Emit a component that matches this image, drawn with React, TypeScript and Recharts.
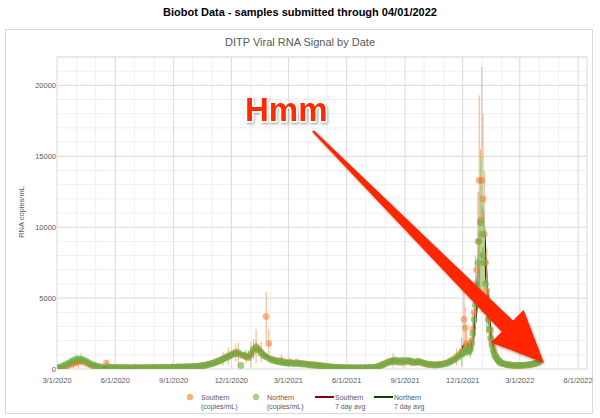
import React from 'react';
import { ComposedChart, Scatter, Line, XAxis, YAxis, CartesianGrid, ErrorBar } from 'recharts';

// Day offsets counted from 3/1/2020
const sampleDays = [
  2, 6, 10, 14, 18, 22, 26, 30, 34, 38, 42, 46, 50, 54, 58, 62, 66, 70,
  78,
  82, 86, 90, 94, 98, 102, 106, 110, 114, 118, 122, 126, 130, 134, 138, 142, 146, 150, 154, 158, 162, 166, 170, 174, 178, 182, 186, 190, 194, 198, 202, 206, 210, 214, 218, 222, 226,
  230, 234, 238, 242, 246, 250, 254, 258, 262, 266, 270, 274,
  278, 282, 286, 290, 294, 298, 302, 306, 310, 314, 318, 322, 326, 330, 334, 338, 342, 346, 350, 354, 358, 362, 366, 370, 374, 378, 382, 386, 390, 394, 398,
  402, 406, 410, 414, 418, 422, 426, 430, 434, 438, 442, 446, 450, 454, 458, 462, 466, 470, 474, 478, 482, 486, 490, 494, 498, 502,
  506, 510, 514, 518, 522, 526, 530, 534, 538, 542, 546, 550, 554, 558, 562, 566, 570, 574, 578, 582, 586, 590, 594, 598, 602, 606, 610, 614, 618, 622, 626, 630, 634, 638,
  640, 642, 644, 646, 648, 650, 652, 654, 656, 658, 660, 662, 664, 666, 668, 670, 672, 674, 676, 678, 680, 682, 684, 686, 688, 690, 692, 694, 696, 698, 700,
  704, 708, 712, 716, 720, 724, 728, 732, 736, 740, 744, 748, 752, 756, 760,
];

const southernValues = [
  60, 90, 130, 180, 250, 320, 380, 450, 500, 540, 500, 420, 330, 260, 180, 140, 110, 90,
  420,
  150, 120, 100, 110, 90, 100, 120, 90, 80, 100, 110, 90, 100, 80, 90, 110, 100, 120, 90, 100, 110, 130, 100, 120, 110, 140, 120, 130, 150, 120, 140, 160, 150, 170, 180, 200, 220,
  250, 280, 320, 380, 420, 500, 560, 650, 720, 820, 900, 1000,
  1100, 1200, 1050, 1000, 950, 850, 800, 1000, 1300, 1600, 1400, 1200, 1000, 3700, 1800, 700, 650, 600, 550, 600, 500, 450, 500, 450, 400, 480, 420, 400, 380, 350, 330,
  300, 320, 280, 250, 230, 200, 180, 160, 150, 130, 120, 110, 100, 90, 100, 90, 80, 90, 100, 90, 80, 100, 90, 100, 110, 130,
  180, 250, 320, 400, 500, 550, 600, 500, 550, 450, 500, 600, 550, 500, 450, 500, 550, 450, 400, 350, 300, 300, 280, 300, 320, 350, 380, 420, 500, 600, 700, 850, 1000, 1200,
  1300, 3500, 2900, 1800, 1600, 1300, 1500, 2000, 2800, 4000, 5500, 7000, 9000, 13300, 10500, 13300, 12000, 9500, 7500, 5500, 4500, 3500, 2700, 2000, 1500, 1200, 950, 800, 650, 550, 450,
  380, 330, 300, 280, 260, 250, 250, 260, 270, 280, 300, 330, 370, 420, 500,
];

const northernValues = [
  100, 150, 230, 320, 420, 520, 600, 680, 720, 700, 640, 540, 440, 350, 280, 220, 170, 140,
  150,
  120, 100, 90, 80, 100, 90, 80, 100, 90, 80, 90, 100, 80, 90, 100, 90, 80, 100, 110, 90, 100, 110, 120, 100, 120, 130, 110, 140, 130, 150, 140, 150, 170, 160, 180, 190, 210,
  230, 260, 300, 350, 400, 460, 530, 600, 700, 780, 880, 950,
  1050, 1100, 1150, 250, 1000, 900, 850, 1100, 1400, 1500, 1350, 1100, 950, 850, 750, 650, 600, 550, 500, 480, 450, 420, 400, 420, 380, 400, 380, 350, 350, 330, 300,
  280, 260, 250, 230, 200, 190, 170, 150, 130, 120, 110, 100, 90, 100, 90, 80, 90, 80, 90, 80, 90, 80, 100, 90, 100, 120,
  160, 220, 300, 380, 450, 500, 550, 650, 500, 600, 550, 500, 600, 550, 500, 450, 500, 480, 420, 380, 350, 320, 300, 280, 300, 320, 350, 400, 450, 550, 650, 750, 900, 1050,
  1100, 1200, 1300, 1400, 1300, 1200, 1400, 1800, 2500, 3500, 4500, 6000, 7500, 9000, 10300, 9500, 8000, 7500, 6000, 4500, 3500, 2800, 2200, 1700, 1300, 1000, 850, 700, 600, 500, 420,
  380, 330, 300, 270, 260, 250, 240, 250, 260, 280, 300, 330, 360, 400, 480,
];

const southernErrDays = [26, 34, 78, 262, 270, 286, 306, 314, 322, 330, 334, 354, 530, 546, 558, 630, 638, 642, 644, 646, 652, 656, 660, 664, 666, 668, 670, 672, 674, 678, 682, 686];
const southernErrs = [300, 400, 200, 500, 600, 800, 900, 1200, 700, 1700, 1000, 400, 500, 400, 300, 600, 1000, 2000, 1500, 900, 700, 1200, 2500, 3500, 6000, 5000, 8000, 6000, 4500, 3000, 1800, 1000];
const northernErrDays = [30, 38, 282, 298, 310, 314, 530, 642, 656, 660, 664, 666, 668, 670, 672, 674, 678, 682];
const northernErrs = [350, 400, 600, 500, 700, 600, 300, 400, 800, 1500, 2500, 3500, 4500, 5500, 4000, 3000, 2000, 1000];

const avgDays = [
  2, 9, 16, 23, 30, 37, 41, 48, 55, 62, 70,
  80, 90, 110, 130, 150, 170, 190, 210, 226,
  236, 246, 256, 266, 276, 284, 292, 300, 306, 312, 318, 326, 334, 342, 352, 362, 375, 390,
  405, 420, 435, 450, 470, 490, 502,
  510, 520, 530, 545, 560, 575, 590, 605, 618, 628, 636,
  642, 647, 651, 655, 659, 663, 667, 670, 674, 677, 680, 683, 686, 690, 694, 698,
  704, 712, 725, 740, 752, 761,
];
const southernAvg = [
  70, 140, 230, 330, 420, 490, 500, 420, 280, 170, 110,
  150, 110, 100, 100, 110, 115, 120, 150, 200,
  320, 450, 620, 850, 1100, 1100, 980, 830, 950, 1450, 1400, 1100, 850, 650, 550, 470, 430, 370,
  300, 220, 150, 100, 90, 95, 130,
  250, 450, 560, 520, 520, 450, 310, 330, 480, 750, 1100,
  1700, 1800, 1400, 1900, 3500, 6000, 9500, 11400, 9800, 7000, 4600, 3100, 2100, 1300, 850, 580,
  400, 300, 250, 280, 370, 520,
];
const northernAvg = [
  100, 180, 330, 480, 620, 700, 680, 500, 330, 220, 140,
  130, 100, 90, 95, 100, 110, 120, 140, 190,
  290, 410, 570, 800, 1050, 1130, 1000, 880, 1000, 1400, 1350, 1000, 750, 600, 490, 420, 390, 350,
  270, 200, 130, 95, 85, 90, 120,
  220, 420, 560, 560, 530, 470, 330, 310, 430, 680, 950,
  1200, 1350, 1250, 1700, 3000, 4800, 6800, 8000, 8600, 6500, 4300, 2800, 1900, 1150, 800, 560,
  400, 300, 250, 270, 360, 500,
];

const majorTickDays = [0, 92, 184, 275, 365, 457, 549, 640, 730, 822];
const majorTickLabels = ['3/1/2020', '6/1/2020', '9/1/2020', '12/1/2020', '3/1/2021', '6/1/2021', '9/1/2021', '12/1/2021', '3/1/2022', '6/1/2022'];
const minorMonthDays = [31, 61, 122, 153, 214, 245, 306, 337, 396, 426, 487, 518, 579, 610, 671, 702, 761, 791];
const yTicks = [0, 5000, 10000, 15000, 20000];
const minorYValues = [1000, 2000, 3000, 4000, 6000, 7000, 8000, 9000, 11000, 12000, 13000, 14000, 16000, 17000, 18000, 19000, 21000, 22000];

const legendItems = [
  { kind: 'dot', color: '#ED7D31', line1: 'Southern', line2: '(copies/mL)' },
  { kind: 'dot', color: '#70AD47', line1: 'Northern', line2: '(copies/mL)' },
  { kind: 'line', color: '#8B0000', line1: 'Southern', line2: '7 day avg' },
  { kind: 'line', color: '#0F3D0F', line1: 'Northern', line2: '7 day avg' },
];

const buildPoints = (vals: number[], errDays: number[], errs: number[]) =>
  sampleDays.map((t, i) => {
    const k = errDays.indexOf(t);
    return { t, v: vals[i], e: k >= 0 ? errs[k] : 0 };
  });

const southernData = buildPoints(southernValues, southernErrDays, southernErrs);
const northernData = buildPoints(northernValues, northernErrDays, northernErrs);
const southernAvgData = avgDays.map((t, i) => ({ t, v: southernAvg[i] }));
const northernAvgData = avgDays.map((t, i) => ({ t, v: northernAvg[i] }));

const FONT = "'Liberation Sans', Arial, sans-serif";
const GRAY = '#595959';

const XTick = (p: any) => {
  const idx = majorTickDays.indexOf(p.payload.value);
  return (
    <text x={p.x} y={p.y + 14} textAnchor="middle" fontSize={7.5} fill={GRAY} fontFamily={FONT}>
      {idx >= 0 ? majorTickLabels[idx] : ''}
    </text>
  );
};

const YTick = (p: any) => (
  <text x={p.x - 1} y={p.y + 2.7} textAnchor="end" fontSize={7.5} fill={GRAY} fontFamily={FONT}>
    {p.payload.value}
  </text>
);

const dot = (color: string, op: number) => (p: any) =>
  <circle cx={p.cx} cy={p.cy} r={3.4} fill={color} fillOpacity={op} stroke="none" />;

export default function App() {
  const legendX = [190, 256, 315, 374];
  return (
    <div style={{ position: 'absolute', left: 0, top: 0, width: 600, height: 418, background: '#fff', overflow: 'hidden' }}>
      <div style={{ position: 'absolute', left: 0, top: 6, width: 600, textAlign: 'center', fontFamily: FONT, fontWeight: 'bold', fontSize: 11, color: '#000' }}>
        Biobot Data - samples submitted through 04/01/2022
      </div>
      <div style={{ position: 'absolute', left: 5, top: 29, width: 588, height: 385, border: '1px solid #d9d9d9', boxSizing: 'border-box' }} />
      <div style={{ position: 'absolute', left: 0, top: 36, width: 600, textAlign: 'center', fontFamily: FONT, fontSize: 11, color: GRAY }}>
        DITP Viral RNA Signal by Date
      </div>
      <div style={{ position: 'absolute', left: 0, top: 0 }}>
        <ComposedChart width={600} height={418} margin={{ top: 57, right: 13, bottom: 29, left: 7 }}>
          <CartesianGrid stroke="#efefef" horizontalValues={minorYValues} verticalValues={minorMonthDays} />
          <CartesianGrid stroke="#d9d9d9" />
          <XAxis type="number" dataKey="t" domain={[0, 836]} ticks={majorTickDays} interval={0} allowDataOverflow
            axisLine={false} tickLine={false} tickSize={0} tickMargin={0} height={20} tick={XTick} />
          <YAxis type="number" domain={[0, 22000]} ticks={yTicks} interval={0} allowDataOverflow
            axisLine={false} tickLine={false} tickSize={0} tickMargin={0} width={50} tick={YTick} />
          <Line data={southernAvgData} dataKey="v" type="monotone" stroke="#7A0000" strokeWidth={2} dot={false} isAnimationActive={false} />
          <Line data={northernAvgData} dataKey="v" type="monotone" stroke="#0F3D0F" strokeWidth={2} dot={false} isAnimationActive={false} />
          <Scatter data={southernData} dataKey="v" shape={dot('#ED7D31', 0.55)} isAnimationActive={false}>
            <ErrorBar dataKey="e" direction="y" width={0} stroke="#F4B183" strokeWidth={1} />
          </Scatter>
          <Scatter data={northernData} dataKey="v" shape={dot('#70AD47', 0.65)} isAnimationActive={false}>
            <ErrorBar dataKey="e" direction="y" width={0} stroke="#A9D18E" strokeWidth={1} />
          </Scatter>
        </ComposedChart>
      </div>
      <svg width={600} height={418} style={{ position: 'absolute', left: 0, top: 0, pointerEvents: 'none' }}>
        <text x={22} y={212} transform="rotate(-90 22 212)" textAnchor="middle" dominantBaseline="middle" fontSize={7.5} fill={GRAY} fontFamily={FONT}>
          RNA copies/mL
        </text>
        {legendItems.map((it, i) => {
          const x = legendX[i];
          return (
            <g key={i}>
              {it.kind === 'dot'
                ? <circle cx={x} cy={397} r={3.2} fill={it.color} fillOpacity={0.6} />
                : <line x1={x} x2={x + 19} y1={397} y2={397} stroke={it.color} strokeWidth={2} />}
              <text x={it.kind === 'dot' ? x + 11 : x + 20} y={399.5} fontSize={7} fill={GRAY} fontFamily={FONT}>{it.line1}</text>
              <text x={it.kind === 'dot' ? x + 11 : x + 20} y={408.5} fontSize={7} fill={GRAY} fontFamily={FONT}>{it.line2}</text>
            </g>
          );
        })}
        <defs>
          <filter id="sh" x="-20%" y="-20%" width="140%" height="140%">
            <feDropShadow dx="1" dy="1.5" stdDeviation="1" floodColor="#000" floodOpacity="0.35" />
          </filter>
        </defs>
        <polygon points="312.1,131.8 501.6,331.8 491.0,342.4 544,363 523.6,310.0 513.0,320.6 313.9,130.2" fill="#FF2600" filter="url(#sh)" />
        <text x={245} y={121} fontSize={33} fontWeight="bold" fill="#FF2A00" stroke="#fff" strokeWidth={3}
          style={{ paintOrder: 'stroke' }} fontFamily={FONT} filter="url(#sh)">Hmm</text>
      </svg>
    </div>
  );
}
